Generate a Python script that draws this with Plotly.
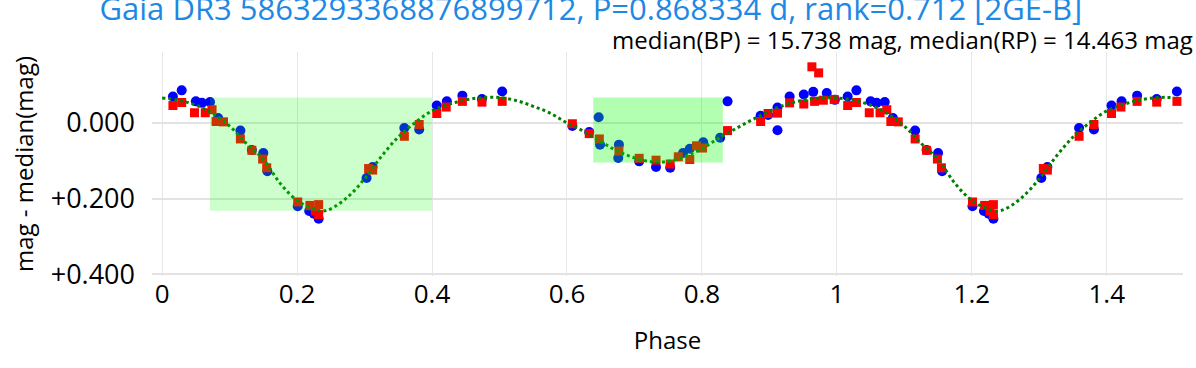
import plotly.graph_objects as go

# folded light curve, phase in [0, 1); values are mag - median(mag)
bp_phase = [0.016, 0.029, 0.050, 0.059, 0.071, 0.083, 0.116, 0.133, 0.150, 0.156,
            0.201, 0.218, 0.225, 0.232, 0.303, 0.312, 0.359, 0.381, 0.407, 0.422,
            0.445, 0.474, 0.504, 0.608, 0.633, 0.647, 0.649, 0.677, 0.676, 0.707,
            0.732, 0.753, 0.772, 0.782, 0.802, 0.827, 0.838, 0.887, 0.898, 0.912,
            0.912, 0.930, 0.951, 0.965, 0.985, 0.997]
bp_mag = [-0.069, -0.085, -0.056, -0.052, -0.054, -0.012, 0.021, 0.072, 0.080, 0.128,
          0.220, 0.233, 0.240, 0.253, 0.146, 0.117, 0.014, 0.018, -0.045, -0.056,
          -0.071, -0.062, -0.082, 0.009, 0.025, -0.014, 0.058, 0.058, 0.093, 0.102,
          0.117, 0.119, 0.080, 0.069, 0.052, 0.040, -0.056, -0.018, -0.020, -0.040,
          0.020, -0.069, -0.074, -0.081, -0.078, -0.060]

rp_phase = [0.016, 0.029, 0.048, 0.064, 0.074, 0.080, 0.091, 0.116, 0.133, 0.149,
            0.155, 0.201, 0.219, 0.227, 0.232, 0.232, 0.306, 0.312, 0.359, 0.381,
            0.407, 0.421, 0.445, 0.474, 0.504, 0.608, 0.633, 0.648, 0.677, 0.707,
            0.732, 0.753, 0.765, 0.782, 0.792, 0.801, 0.838, 0.887, 0.898, 0.912,
            0.930, 0.951, 0.963, 0.967, 0.973, 0.980, 0.996]
rp_mag = [-0.045, -0.053, -0.026, -0.026, -0.034, -0.003, -0.002, 0.043, 0.073, 0.096,
          0.119, 0.209, 0.218, 0.233, 0.216, 0.242, 0.121, 0.125, 0.036, 0.005,
          -0.024, -0.041, -0.056, -0.054, -0.056, 0.003, 0.029, 0.043, 0.075, 0.094,
          0.099, 0.109, 0.090, 0.097, 0.061, 0.067, 0.021, -0.003, -0.024, -0.025,
          -0.052, -0.049, -0.147, -0.056, -0.131, -0.059, -0.061]

model_phase = [0.0, 0.025, 0.05, 0.075, 0.1, 0.125, 0.15, 0.175, 0.2, 0.225, 0.2375,
               0.25, 0.275, 0.3, 0.325, 0.35, 0.375, 0.4, 0.425, 0.45, 0.475, 0.5,
               0.525, 0.55, 0.575, 0.6, 0.625, 0.65, 0.675, 0.7, 0.725, 0.75, 0.775,
               0.8, 0.825, 0.85, 0.875, 0.9, 0.925, 0.95, 0.975]
model_mag = [-0.065, -0.059, -0.046, -0.024, 0.009, 0.055, 0.097, 0.160, 0.205, 0.228, 0.233,
             0.227, 0.196, 0.148, 0.089, 0.038, 0.000, -0.031, -0.048, -0.060, -0.066, -0.066,
             -0.058, -0.043, -0.025, 0.001, 0.023, 0.050, 0.075, 0.093, 0.103, 0.102, 0.089,
             0.069, 0.041, 0.016, -0.008, -0.030, -0.048, -0.059, -0.065]

# eclipse windows: (phase start, phase end, mag top, mag bottom, opacity)
eclipses = [(0.071, 0.400, -0.066, 0.232, 0.2),
            (0.639, 0.831, -0.066, 0.105, 0.3)]

y_tickvals = [0.0, 0.2, 0.4]
y_ticktext = ["0.000", "+0.200", "+0.400"]

title = "Gaia DR3 5863293368876899712, P=0.868334 d, rank=0.712 [2GE-B]"
subtitle = "median(BP) = 15.738 mag, median(RP) = 14.463 mag"


def unfold(phase, mag, upto=0.52):
    # show 1.5 cycles: repeat the first half cycle after phase 1
    xs = list(phase) + [p + 1 for p in phase if p < upto]
    ys = list(mag) + [m for p, m in zip(phase, mag) if p < upto]
    return xs, ys


bx, by = unfold(bp_phase, bp_mag)
rx, ry = unfold(rp_phase, rp_mag)
mx, my = unfold(model_phase + [1.0], model_mag + [model_mag[0]], upto=0.501)

fig = go.Figure()
fig.add_trace(go.Scatter(x=bx, y=by, mode="markers", name="BP",
                         marker=dict(color="blue", size=10, symbol="circle")))
fig.add_trace(go.Scatter(x=rx, y=ry, mode="markers", name="RP",
                         marker=dict(color="red", size=9, symbol="square")))
fig.add_trace(go.Scatter(x=mx, y=my, mode="lines", name="model",
                         line=dict(color="green", width=3, dash="dot", shape="spline")))

for x0, x1, y0, y1, op in eclipses:
    fig.add_shape(type="rect", x0=x0, x1=x1, y0=y0, y1=y1, xref="x", yref="y",
                  fillcolor="lime", opacity=op, line=dict(width=0), layer="above")

fig.add_annotation(text=subtitle, xref="paper", yref="paper", x=1, y=1,
                   xanchor="right", yanchor="bottom", xshift=12, yshift=-6,
                   showarrow=False, font=dict(size=24, color="black"))

fig.update_layout(
    width=1196, height=368,
    paper_bgcolor="white", plot_bgcolor="white",
    font=dict(family="Open Sans", size=20, color="black"),
    title=dict(text=title, x=0.494, xanchor="center", y=0.975, yanchor="middle",
               font=dict(size=31, color="#1E88E5")),
    showlegend=False,
    margin=dict(l=152, r=13, t=52, b=92),
)
fig.update_xaxes(title=dict(text="Phase", standoff=22), range=[-0.015, 1.513], dtick=0.2,
                 showgrid=True, gridcolor="#e6e6e6", gridwidth=1,
                 zeroline=False, ticks="", tickfont=dict(size=26),
                 automargin=False)
fig.update_yaxes(title=dict(text="mag - median(mag)", standoff=10), range=[0.404, -0.186],
                 tickvals=y_tickvals, ticktext=y_ticktext, ticklabelstandoff=16,
                 showgrid=True, gridcolor="#e3e3e3", gridwidth=2,
                 zeroline=False, ticks="", tickfont=dict(size=27),
                 automargin=False)

# page body margin would shift the figure by 8px
fig.write_html("out.html", config={"displayModeBar": False},
               post_script="document.body.style.margin='0px';")
